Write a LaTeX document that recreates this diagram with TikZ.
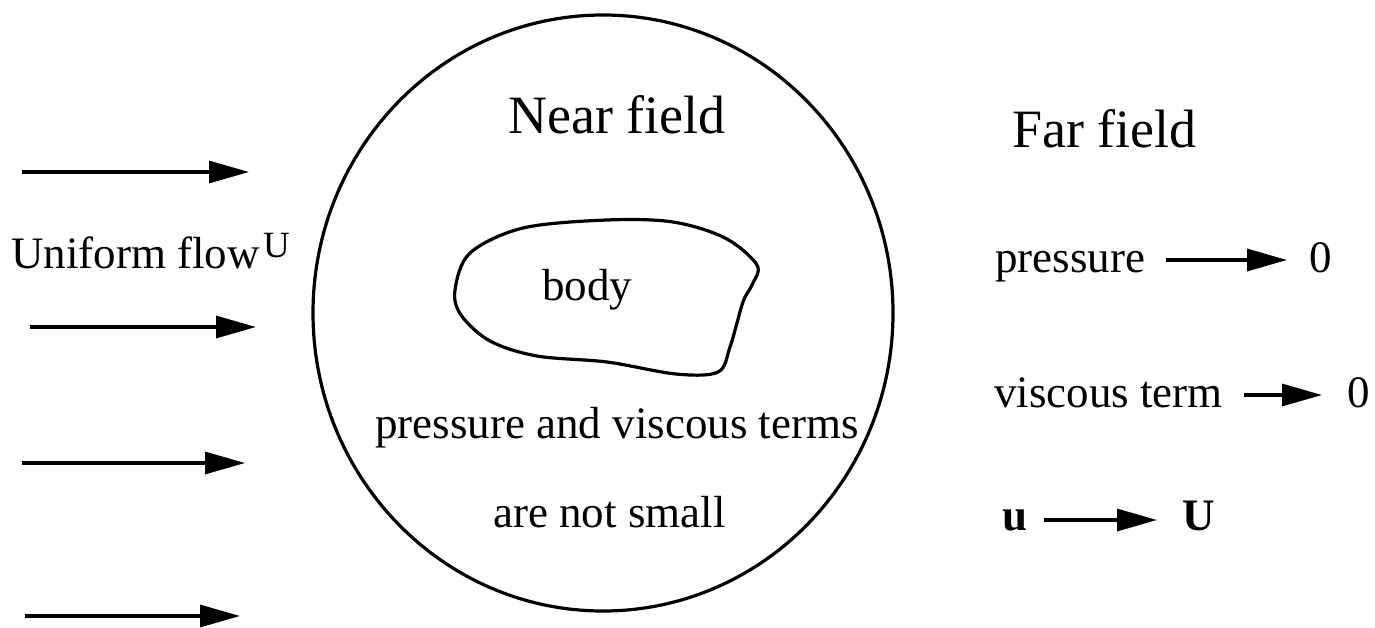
\documentclass[tikz,border=0pt]{standalone}
\usepackage{fontspec}
\setmainfont{Liberation Serif}
\usetikzlibrary{arrows.meta,shapes.geometric}
\tikzset{
  flowarrow/.style={line width=3.2pt, -{Triangle[length=40pt,width=22pt]}},
  outline/.style={line width=3.2pt},
  txt/.style={inner sep=0pt, anchor=base west, font=\fontsize{45}{54}\selectfont},
  title/.style={inner sep=0pt, anchor=base west, font=\fontsize{54}{64}\selectfont},
}
\begin{document}
\begin{tikzpicture}[x=1pt,y=-1pt]
\useasboundingbox (0,0) rectangle (1375,627);
% left flow arrows
\coordinate (a1s) at (22,172);  \coordinate (a1e) at (249,172);
\coordinate (a2s) at (30,327);  \coordinate (a2e) at (256,327);
\coordinate (a3s) at (22,463);  \coordinate (a3e) at (245,463);
\coordinate (a4s) at (25,616);  \coordinate (a4e) at (240,616);
\draw[flowarrow] (a1s) -- (a1e);
\draw[flowarrow] (a2s) -- (a2e);
\draw[flowarrow] (a3s) -- (a3e);
\draw[flowarrow] (a4s) -- (a4e);
\node[txt] (uf) at (11,268) {Uniform flow};
\node[inner sep=0pt, anchor=base west, font=\fontsize{37}{44}\selectfont] (ufU) at (263,257) {U};
% near field circle
\node[outline, draw, ellipse, minimum width=580pt, minimum height=596pt, inner sep=0pt] (nf) at (603,313) {};
\node[title] (nft) at (508,133) {Near field};
% body
\draw[outline] plot[smooth cycle, tension=0.55] coordinates {
  (455,290) (470,253) (523,228) (607,220) (673,222) (725,238) (757,265)
  (752,285) (743,302) (730,347) (718,372) (676,374) (607,362) (537,356)
  (490,341) (461,315)};
\node[txt] (body) at (542,300) {body};
\node[txt] (pv) at (375,438) {pressure and viscous terms};
\node[txt] (ans) at (493,527) {are not small};
% far field
\node[title] (fft) at (1012,147) {Far field};
\node[txt] (p1) at (995,272) {pressure};
\node[txt] (z1) at (1309,272) {0};
\draw[flowarrow] ([shift={(21,-12)}]p1.base east) -- ([shift={(-22,-12)}]z1.base west);
\node[txt] (v1) at (994,407) {viscous term};
\node[txt] (z2) at (1347,407) {0};
\draw[flowarrow] ([shift={(21,-12)}]v1.base east) -- ([shift={(-25,-12)}]z2.base west);
\node[txt, font=\fontsize{45}{54}\selectfont\bfseries] (u1) at (1002,530) {u};
\node[txt, font=\fontsize{45}{54}\selectfont\bfseries] (U1) at (1182,530) {U};
\draw[flowarrow] ([shift={(17,-10)}]u1.base east) -- ([shift={(-25,-10)}]U1.base west);
\end{tikzpicture}
\end{document}
